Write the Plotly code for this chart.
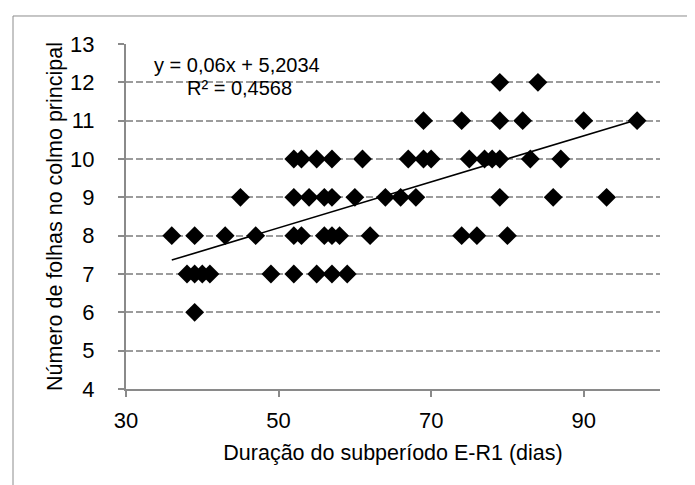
import plotly.graph_objects as go

# Data
duracao = [79, 84,
           69, 74, 79, 82, 90, 97,
           52, 53, 55, 57, 61, 67, 69, 70, 75, 77, 78, 79, 83, 87,
           45, 52, 54, 56, 57, 60, 64, 66, 68, 79, 86, 93,
           36, 39, 43, 47, 52, 53, 56, 57, 58, 62, 74, 76, 80,
           38, 39, 40, 41, 49, 52, 55, 57, 59,
           39]
folhas = [12, 12,
          11, 11, 11, 11, 11, 11,
          10, 10, 10, 10, 10, 10, 10, 10, 10, 10, 10, 10, 10, 10,
          9, 9, 9, 9, 9, 9, 9, 9, 9, 9, 9, 9,
          8, 8, 8, 8, 8, 8, 8, 8, 8, 8, 8, 8, 8,
          7, 7, 7, 7, 7, 7, 7, 7, 7,
          6]

slope = 0.06
intercept = 5.2034
r2 = 0.4568

x_ticks = [30, 50, 70, 90]
y_ticks = list(range(4, 14))

trend_x = [min(duracao), max(duracao)]
trend_y = [slope * v + intercept for v in trend_x]

FONT = "Liberation Sans, Arial, sans-serif"
AXIS_GRAY = "#8a8a8a"

fig = go.Figure()
fig.add_trace(go.Scatter(
    x=duracao, y=folhas, mode="markers",
    marker=dict(symbol="diamond", size=14.5, color="black", line=dict(width=0)),
    showlegend=False, hoverinfo="x+y"))
fig.add_trace(go.Scatter(
    x=trend_x, y=trend_y, mode="lines",
    line=dict(color="black", width=1.6),
    showlegend=False, hoverinfo="skip"))

fig.update_layout(
    width=695, height=485,
    margin=dict(l=118, r=43, t=36, b=104),
    paper_bgcolor="white", plot_bgcolor="white",
    font=dict(family=FONT, color="black"),
    xaxis=dict(
        range=[30, 100], tickvals=x_ticks, ticktext=[str(v) for v in x_ticks],
        showgrid=False, zeroline=False,
        showline=True, linecolor=AXIS_GRAY, linewidth=2,
        ticks="outside", ticklen=6, tickwidth=2, tickcolor=AXIS_GRAY,
        tickfont=dict(size=22, family=FONT, color="black"),
        ticklabelstandoff=5,
        title=dict(text="Duração do subperíodo E-R1 (dias)",
                   font=dict(size=21.5, family=FONT, color="black"), standoff=13),
    ),
    yaxis=dict(
        range=[4, 13], tickvals=y_ticks, ticktext=[str(v) for v in y_ticks],
        showgrid=True, gridcolor="#9c9c9c", gridwidth=1.5, griddash="7px,3px",
        zeroline=False,
        showline=True, linecolor=AXIS_GRAY, linewidth=2,
        ticks="outside", ticklen=6, tickwidth=2, tickcolor=AXIS_GRAY,
        tickfont=dict(size=22, family=FONT, color="black"),
        ticklabelstandoff=19,
        title=dict(text="Número de folhas no colmo principal",
                   font=dict(size=21.5, family=FONT, color="black"), standoff=2),
    ),
)

fig.add_annotation(
    xref="paper", yref="paper", x=0.208, y=0.94,
    text=f"y = {str(slope).replace('.', ',')}x + {str(intercept).replace('.', ',')}",
    showarrow=False, font=dict(size=20, family=FONT, color="black"),
    xanchor="center", yanchor="middle")
fig.add_annotation(
    xref="paper", yref="paper", x=0.212, y=0.873,
    text=f"R² = {str(r2).replace('.', ',')}",
    showarrow=False, font=dict(size=20, family=FONT, color="black"),
    xanchor="center", yanchor="middle")

# light frame around the whole chart
fig.add_shape(type="rect", xref="paper", yref="paper",
              x0=-0.2116, x1=1.0693, y0=-0.2957, y1=1.0812,
              line=dict(color="#8c8c8c", width=1), fillcolor="rgba(0,0,0,0)",
              layer="below")

fig.write_html("out.html")
